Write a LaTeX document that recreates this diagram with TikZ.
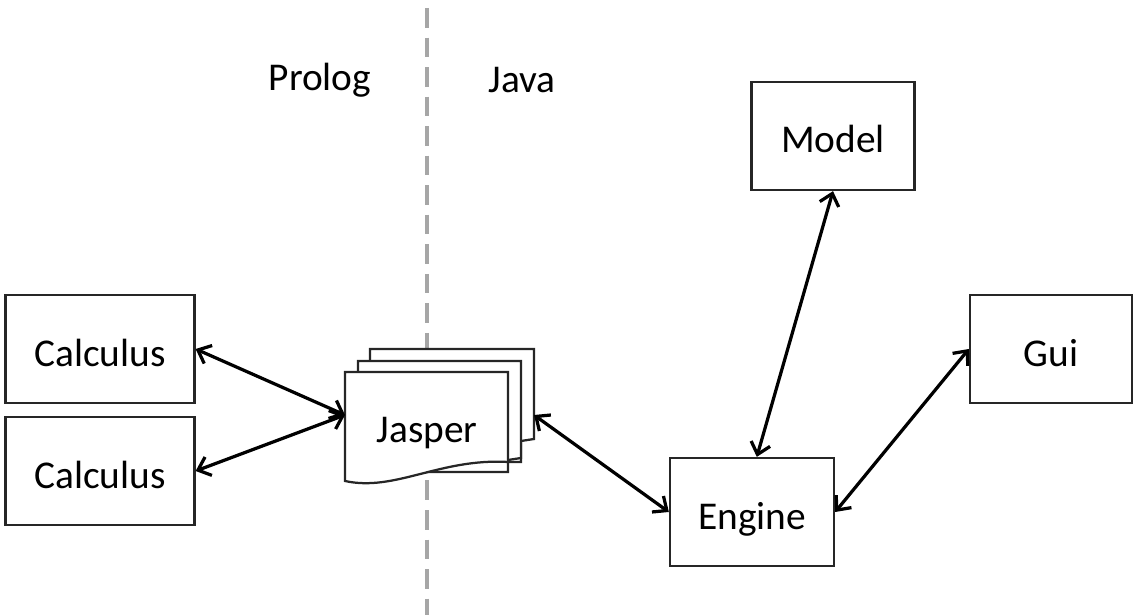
\documentclass[tikz,border=0pt]{standalone}
\usepackage{fontspec}
\setmainfont{Carlito}
\usetikzlibrary{arrows.meta,positioning,calc}

\begin{document}
\begin{tikzpicture}[x=0.025cm,y=-0.025cm,
  box/.style={draw=black!85, line width=1.6pt, fill=white, minimum height=2.7cm, text height=0.95cm, text depth=0.1cm, font=\fontsize{28}{34}\selectfont},
  doc/.style={draw=black!85, line width=1.6pt, fill=white},
  link/.style={<->, line width=2.3pt, >={Straight Barb[length=8pt,width=14pt,line width=2.3pt]}},
  lbl/.style={font=\fontsize{28}{34}\selectfont}]
\useasboundingbox (0,0) rectangle (1144,615);

% divider
\draw[black!35, line width=2.8pt, dash pattern=on 14pt off 7pt] (427,8) -- (427,615);
\node[lbl] (prolog) at (320,80) {Prolog};
\node[lbl] (java) at (522,80) {Java};

\node[box, minimum width=4.725cm] (calc1) at (100,349) {Calculus};
\node[box, minimum width=4.725cm] (calc2) at (100,471) {Calculus};
\node[box, minimum width=4.075cm] (model) at (833,136) {Model};
\node[box, minimum width=4.05cm] (gui) at (1051,349) {Gui};
\node[box, minimum width=4.1cm] (engine) at (752,512) {Engine};

% stacked documents
\draw[doc] (370,349) -- (534,349) -- (534,439) -- (521,441) -- (521,462) -- (370,462) -- cycle;
\draw[doc] (358,361) -- (521,361) -- (521,458) -- (508,460) -- (508,472) -- (358,472) -- cycle;
\draw[doc] (345,372) -- (508,372) -- (508,462) .. controls (440,458) and (395,492) .. (345,481) -- cycle;
\node[lbl] (jasper) at (427,433) {Jasper};
\coordinate (jin) at (345,415);
\coordinate (jout) at (534,415);

\draw[link] (calc1.east) -- (jin);
\draw[link] (calc2.east) -- (jin);
\draw[link] (jout) -- (engine.west);
\draw[link] ([xshift=0.12cm]engine.north) -- (model.south);
\draw[link] (engine.east) -- (gui.west);
\end{tikzpicture}
\end{document}
